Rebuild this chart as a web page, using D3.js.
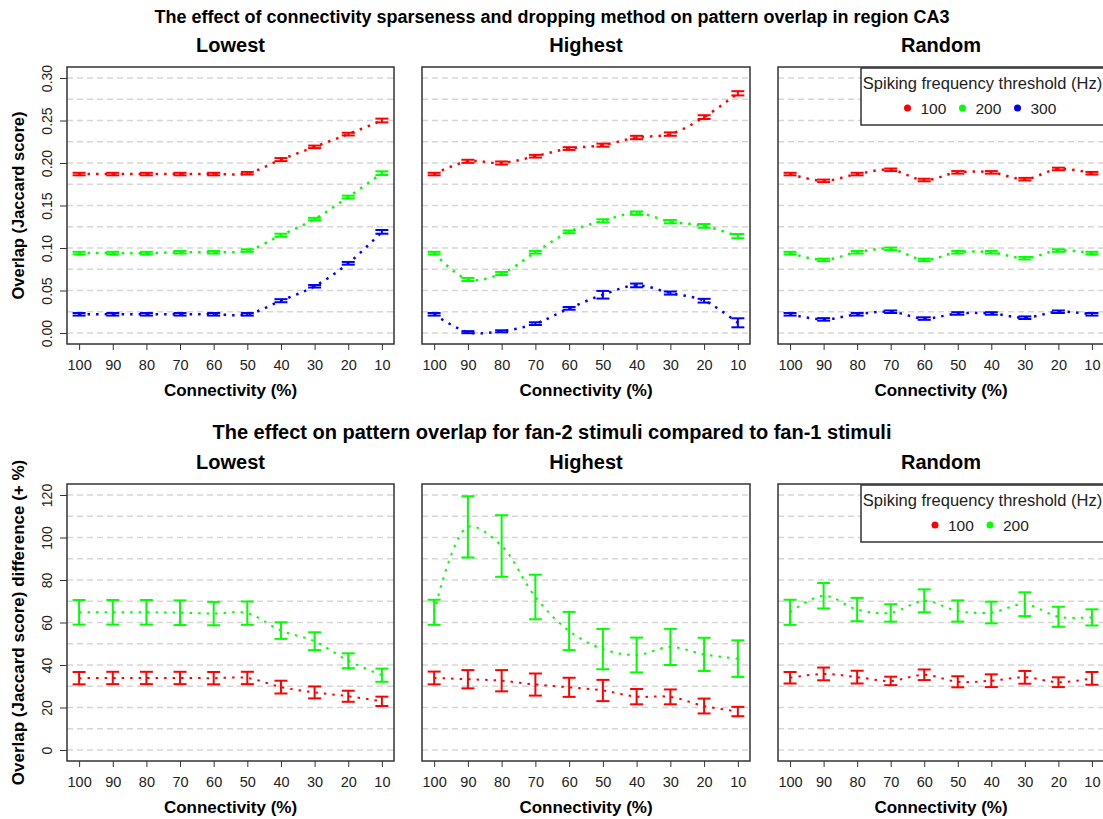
<!DOCTYPE html>
<html>
<head>
<meta charset="utf-8">
<script src="https://cdn.jsdelivr.net/npm/d3@7"></script>
<style>
body { margin: 0; background: #fff; }
text { font-family: "Liberation Sans", Arial, sans-serif; }
</style>
</head>
<body>
<script>
"use strict";

// x categories (connectivity %)
const connectivity = [100, 90, 80, 70, 60, 50, 40, 30, 20, 10];
const methods = ["Lowest", "Highest", "Random"];
const thresholds = ["100", "200", "300"];
const colors = ["#ff0000", "#00ff00", "#0000ff"];

// top row: overlap (Jaccard score), means and half error
const topLowest100 = [0.187, 0.187, 0.187, 0.187, 0.187, 0.188, 0.204, 0.219, 0.234, 0.250];
const topLowest200 = [0.094, 0.094, 0.094, 0.095, 0.095, 0.097, 0.115, 0.134, 0.160, 0.188];
const topLowest300 = [0.022, 0.022, 0.022, 0.022, 0.022, 0.022, 0.038, 0.055, 0.082, 0.119];
const topLowestErr = [0.0015, 0.0015, 0.0015, 0.0015, 0.0015, 0.0015, 0.0018, 0.0015, 0.0016, 0.0022];

const topHighest100 = [0.187, 0.202, 0.200, 0.208, 0.217, 0.221, 0.230, 0.234, 0.254, 0.282];
const topHighest200 = [0.094, 0.063, 0.070, 0.095, 0.119, 0.132, 0.141, 0.131, 0.126, 0.114];
const topHighest300 = [0.022, 0.001, 0.002, 0.011, 0.029, 0.045, 0.056, 0.047, 0.038, 0.012];
const topHighestErr = [0.0015, 0.0018, 0.0018, 0.0016, 0.0016, 0.0018, 0.002, 0.002, 0.0022, 0.0025];
const topHighest300Err = [0.0015, 0.0012, 0.0012, 0.0016, 0.0016, 0.0045, 0.0022, 0.0018, 0.0022, 0.0053];

const topRandom100 = [0.187, 0.179, 0.187, 0.192, 0.180, 0.189, 0.189, 0.181, 0.193, 0.188];
const topRandom200 = [0.094, 0.086, 0.095, 0.099, 0.086, 0.095, 0.095, 0.088, 0.097, 0.094];
const topRandom300 = [0.022, 0.016, 0.022, 0.025, 0.017, 0.023, 0.023, 0.018, 0.025, 0.022];
const topRandomErr = [0.0015, 0.0015, 0.0015, 0.0015, 0.0015, 0.0015, 0.0015, 0.0015, 0.0015, 0.0015];

// bottom row: fan-2 vs fan-1 difference (+ %), means and half error
const botLowest100 = [33.8, 33.9, 33.9, 33.9, 33.8, 33.9, 29.6, 27.1, 25.3, 22.9];
const botLowest100Err = [2.9, 2.9, 2.9, 2.9, 2.9, 2.9, 3.0, 2.8, 2.6, 2.2];
const botLowest200 = [64.8, 64.8, 64.8, 64.6, 64.2, 64.4, 56.2, 51.2, 42.0, 35.2];
const botLowest200Err = [5.8, 5.8, 5.8, 5.8, 5.5, 5.5, 3.9, 4.2, 3.5, 3.1];

const botHighest100 = [33.9, 33.3, 32.6, 30.8, 29.5, 28.0, 25.1, 25.0, 20.7, 18.1];
const botHighest100Err = [3.0, 4.3, 5.0, 5.2, 4.5, 5.0, 3.6, 3.5, 3.5, 2.2];
const botHighest200 = [64.8, 105.0, 96.0, 72.0, 56.0, 47.5, 44.7, 48.5, 45.0, 43.0];
const botHighest200Err = [5.9, 14.4, 14.5, 10.5, 9.0, 9.5, 8.2, 8.5, 7.8, 8.6];

const botRandom100 = [34.0, 35.8, 34.3, 32.5, 35.4, 32.1, 32.6, 34.2, 31.9, 33.7];
const botRandom100Err = [2.7, 3.0, 3.0, 2.0, 2.5, 2.6, 3.0, 3.0, 2.3, 3.0];
const botRandom200 = [64.8, 72.6, 66.1, 64.5, 70.2, 65.4, 64.7, 68.6, 62.7, 62.4];
const botRandom200Err = [5.9, 6.0, 5.5, 4.1, 5.4, 5.0, 5.1, 5.6, 4.7, 3.8];

const topTicks = [0, 0.05, 0.10, 0.15, 0.20, 0.25, 0.30];
const topGrid = d3.range(0, 0.3001, 0.025);
const botTicks = [0, 20, 40, 60, 80, 100, 120];
const botGrid = d3.range(0, 120.01, 10);

(function()
{
	let W = 1103, H = 819;
	let svg = d3.select("body").append("svg")
		.attr("width", W)
		.attr("height", H);
	svg.append("rect").attr("width", W).attr("height", H).attr("fill", "white");

	let panelX = [[67, 394], [422, 750], [778, 1104]];

	let rows = [
		{
			title: "The effect of connectivity sparseness and dropping method on pattern overlap in region CA3",
			titleSize: 18, titleY: 23, subY: 52, top: 67, bottom: 344,
			ydom: [0, 0.30], yrange: [333, 78], ticks: topTicks, grid: topGrid,
			fmt: d3.format(".2f"), ylab: "Overlap (Jaccard score)", ylabSize: 16.5, dash: "2.5,6", lw: 2.5,
			series: [
				[[topLowest100, topLowestErr], [topLowest200, topLowestErr], [topLowest300, topLowestErr]],
				[[topHighest100, topHighestErr], [topHighest200, topHighestErr], [topHighest300, topHighest300Err]],
				[[topRandom100, topRandomErr], [topRandom200, topRandomErr], [topRandom300, topRandomErr]]
			],
			legend: thresholds
		},
		{
			title: "The effect on pattern overlap for fan-2 stimuli compared to fan-1 stimuli",
			titleSize: 20, titleY: 439, subY: 469, top: 484, bottom: 761,
			ydom: [0, 120], yrange: [750, 495], ticks: botTicks, grid: botGrid,
			fmt: d3.format("d"), ylab: "Overlap (Jaccard score) difference (+ %)", ylabSize: 17, dash: "2.5,6", lw: 2,
			series: [
				[[botLowest100, botLowest100Err], [botLowest200, botLowest200Err]],
				[[botHighest100, botHighest100Err], [botHighest200, botHighest200Err]],
				[[botRandom100, botRandom100Err], [botRandom200, botRandom200Err]]
			],
			legend: thresholds.slice(0, 2)
		}
	];

	rows.forEach(function(row)
	{
		svg.append("text")
			.attr("x", 552).attr("y", row.titleY)
			.attr("text-anchor", "middle")
			.attr("font-size", row.titleSize).attr("font-weight", "bold")
			.text(row.title);

		let y = d3.scaleLinear().domain(row.ydom).range(row.yrange);

		// y axis label
		svg.append("text")
			.attr("transform", "translate(24," + ((row.top + row.bottom) / 2) + ") rotate(-90)")
			.attr("text-anchor", "middle")
			.attr("font-size", row.ylabSize).attr("font-weight", "bold")
			.text(row.ylab);

		methods.forEach(function(m, p)
		{
			let x0 = panelX[p][0], x1 = panelX[p][1];
			let x = d3.scaleLinear().domain([-0.36, 9.36]).range([x0, x1]);
			let g = svg.append("g");

			g.append("text")
				.attr("x", (x0 + x1) / 2).attr("y", row.subY)
				.attr("text-anchor", "middle")
				.attr("font-size", 20).attr("font-weight", "bold")
				.text(m);

			// grid
			g.selectAll(".grid").data(row.grid).enter().append("line")
				.attr("x1", x0).attr("x2", x1)
				.attr("y1", d => y(d)).attr("y2", d => y(d))
				.attr("stroke", "#d6d6d6").attr("stroke-width", 1.3)
				.attr("stroke-dasharray", "6,4");

			// x axis
			let xa = g.append("g")
				.attr("transform", "translate(0," + row.bottom + ")")
				.call(d3.axisBottom(x).tickValues(d3.range(10))
					.tickFormat(i => connectivity[i]).tickSize(6).tickSizeOuter(0).tickPadding(10));
			xa.select(".domain").remove();
			xa.selectAll("line").attr("stroke", "#333");
			xa.selectAll("text").attr("font-size", 14.5).attr("fill", "#222")
				.attr("font-family", "Liberation Sans, Arial, sans-serif");

			g.append("text")
				.attr("x", (x0 + x1) / 2).attr("y", row.bottom + 52)
				.attr("text-anchor", "middle")
				.attr("font-size", 17).attr("font-weight", "bold")
				.text("Connectivity (%)");

			// y axis on first panel only
			if (p === 0)
			{
				let ya = g.append("g")
					.attr("transform", "translate(" + x0 + ",0)")
					.call(d3.axisLeft(y).tickValues(row.ticks).tickFormat(row.fmt).tickSize(7).tickSizeOuter(0));
				ya.select(".domain").remove();
				ya.selectAll("line").attr("stroke", "#333");
				ya.selectAll("text")
					.attr("font-size", 14).attr("fill", "#222")
					.attr("font-family", "Liberation Sans, Arial, sans-serif")
					.attr("x", null).attr("dy", null)
					.attr("text-anchor", "middle")
					.attr("transform", "translate(-15,0) rotate(-90)");
			}

			let line = d3.line()
				.x((d, i) => x(i))
				.y(d => y(d))
				.curve(d3.curveCatmullRom.alpha(0.5));

			row.series[p].forEach(function(s, k)
			{
				let vals = s[0], errs = s[1];
				g.append("path")
					.attr("d", line(vals))
					.attr("fill", "none")
					.attr("stroke", colors[k])
					.attr("stroke-width", row.lw)
					.attr("stroke-dasharray", row.dash);

				let eb = g.append("g").attr("stroke", colors[k]).attr("stroke-width", 2);
				vals.forEach(function(v, i)
				{
					let cx = x(i), lo = y(v - errs[i]), hi = y(v + errs[i]);
					eb.append("line").attr("x1", cx).attr("x2", cx).attr("y1", lo).attr("y2", hi);
					eb.append("line").attr("x1", cx - 6.5).attr("x2", cx + 6.5).attr("y1", lo).attr("y2", lo);
					eb.append("line").attr("x1", cx - 6.5).attr("x2", cx + 6.5).attr("y1", hi).attr("y2", hi);
				});
			});

			// frame
			g.append("rect")
				.attr("x", x0).attr("y", row.top)
				.attr("width", x1 - x0).attr("height", row.bottom - row.top)
				.attr("fill", "none").attr("stroke", "#333").attr("stroke-width", 1.5);

			// legend on the right panel
			if (p === 2)
			{
				let lx0 = 861, ly0 = row.top + 1, lh = 57;
				let lg = g.append("g");
				lg.append("rect")
					.attr("x", lx0).attr("y", ly0)
					.attr("width", x1 - lx0 + 2).attr("height", lh)
					.attr("fill", "white").attr("stroke", "#333").attr("stroke-width", 1.5);
				lg.append("text")
					.attr("x", 982.5).attr("y", ly0 + 21)
					.attr("text-anchor", "middle")
					.attr("font-size", 16.5).attr("fill", "#222")
					.text("Spiking frequency threshold (Hz)");
				let n = row.legend.length;
				let step = 55;
				let start = 986 - (n * step) / 2 + 4;
				row.legend.forEach(function(t, k)
				{
					let ix = start + k * step;
					lg.append("circle")
						.attr("cx", ix).attr("cy", ly0 + 40).attr("r", 3.5)
						.attr("fill", colors[k]);
					lg.append("text")
						.attr("x", ix + 13).attr("y", ly0 + 45.5)
						.attr("font-size", 15.5).attr("fill", "#222")
						.text(t);
				});
			}
		});
	});
})();
</script>
</body>
</html>
